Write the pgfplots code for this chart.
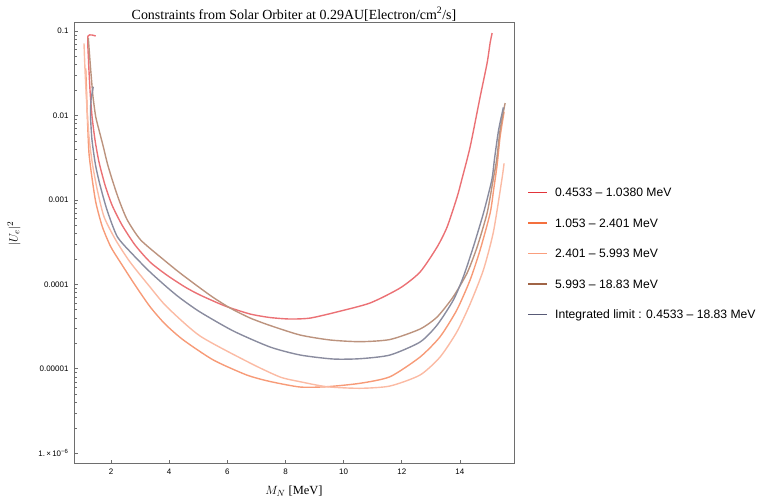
\documentclass[border=0pt]{standalone}
\usepackage{fontspec}
\setmainfont{Liberation Serif}
\setsansfont{Liberation Sans}
\usepackage{pgfplots}
\pgfplotsset{compat=1.18}

% key colours; the curves use lighter tints of them
\definecolor{cRed}{RGB}{226,52,58}
\definecolor{cOrange}{RGB}{244,112,62}
\definecolor{cPeach}{RGB}{250,158,125}
\definecolor{cBrown}{RGB}{160,100,70}
\definecolor{cGrey}{RGB}{88,90,118}
\definecolor{lRed}{RGB}{235,113,117}
\definecolor{lOrange}{RGB}{247,155,120}
\definecolor{lPeach}{RGB}{251,187,164}
\definecolor{lBrown}{RGB}{188,147,126}
\definecolor{lGrey}{RGB}{138,140,159}
\definecolor{frame}{RGB}{110,110,110}
% legend swatch: a short coloured stroke before the entry text
\newcommand{\swatch}[1]{\textcolor{#1}{\rule[3.7bp]{19bp}{1.6bp}}\hspace{8bp}}

\begin{document}
\begin{tikzpicture}
\path[use as bounding box] (-74bp,-35bp) rectangle (705bp,463bp);
\begin{axis}[
  at={(0,0)}, anchor=south west,
  scale only axis, width=440bp, height=441bp,
  xmin=0.727, xmax=15.86,
  ymode=log, ymin=7.67e-7, ymax=0.128,
  xtick={2,4,...,14},
  ytick={1e-6,1e-5,1e-4,1e-3,1e-2,1e-1},
  yticklabels={1.\,×\,10\textsuperscript{−6},0.00001,0.0001,0.001,0.01,0.1},
  minor tick num=0, minor ytick={},
  xtick pos=bottom, ytick pos=left,
  tick align=inside,
  major tick length=3.5bp,
  axis line style={frame, line width=0.9bp},
  tick style={frame, line width=0.7bp},
  /pgf/number format/assume math mode=true,
  ticklabel style={font=\fontsize{8}{9.6}\selectfont\sffamily},
  xticklabel style={yshift=-2bp},
  yticklabel style={xshift=-2bp},
  title={Constraints from Solar Orbiter at 0.29AU[Electron/cm\textsuperscript{2}/s]},
  title style={at={(axis description cs:0.5,0.9932)}, anchor=base, yshift=0pt, font=\fontsize{14}{16}\selectfont},
  xlabel={$M_N$ [MeV]},
  xlabel style={at={(axis description cs:0.5,-0.0635)}, anchor=center, font=\fontsize{12.5}{15}\selectfont},
  ylabel={$|U_e|^2$},
  ylabel style={at={(axis description cs:-0.1364,0.52)}, anchor=center, font=\fontsize{12.5}{15}\selectfont},
  legend cell align=left,
  legend style={draw=none, fill=none, at={(axis description cs:1.025,0.630)}, anchor=north west,
    font=\fontsize{12.2}{15}\selectfont\sffamily, row sep=18.5bp,
    nodes={inner sep=0pt, text height=9.5bp, text depth=2.5bp}},
  every axis plot/.append style={line width=1.4bp, smooth, tension=0.4},
]
% 0.4533 - 1.0380 MeV
\addplot[lRed, forget plot] coordinates {
(1.474,0.0873) (1.209,0.0873) (1.226,0.0454) (1.278,0.0200) (1.346,0.00985)
(1.450,0.00512) (1.587,0.00281) (1.794,0.001502) (2.034,8.71e-4) (2.378,5.05e-4)
(2.826,2.926e-4) (3.342,1.840e-4) (3.916,1.291e-4) (4.546,9.31e-5) (5.062,7.48e-5)
(5.922,5.55e-5) (6.782,4.46e-5) (7.470,4.05e-5) (8.158,3.89e-5) (8.846,3.99e-5)
(9.764,4.71e-5) (10.910,6.02e-5) (11.942,9.06e-5) (12.630,1.401e-4) (13.215,2.77e-4)
(13.559,4.78e-4) (13.903,1.083e-3) (14.060,1.72e-3) (14.350,4.23e-3) (14.694,0.01654)
(14.935,0.0418) (15.038,0.0721) (15.107,0.0947)};
% 1.053 - 2.401 MeV
\addplot[lOrange, forget plot] coordinates {
(1.130,0.0362) (1.157,0.0200) (1.185,0.00993) (1.243,0.003564) (1.357,0.00172)
(1.484,9.12e-4) (1.701,4.82e-4) (1.990,2.793e-4) (2.344,1.776e-4) (2.826,9.83e-5)
(3.342,5.44e-5) (3.858,3.395e-5) (4.487,2.196e-5) (5.519,1.272e-5) (6.668,8.45e-6)
(7.470,7.08e-6) (8.502,6.09e-6) (9.420,6.14e-6) (10.566,6.74e-6) (11.598,8.07e-6)
(12.630,1.381e-5) (13.318,2.40e-5) (13.893,4.97e-5) (14.350,1.127e-4) (14.694,2.553e-4)
(15.038,6.94e-4) (15.158,1.310e-3) (15.279,2.591e-3) (15.382,5.60e-3) (15.519,0.01108)};
% 2.401 - 5.993 MeV
\addplot[lPeach, forget plot] coordinates {
(1.071,0.0715) (1.106,0.0345) (1.164,0.01393) (1.243,0.00560) (1.357,0.002714)
(1.529,0.001310) (1.759,6.33e-4) (2.162,3.353e-4) (2.654,1.840e-4) (3.342,9.31e-5)
(3.916,5.44e-5) (5.062,2.448e-5) (6.782,1.172e-5) (7.814,8.00e-6) (8.502,7.04e-6)
(9.420,6.14e-6) (10.566,5.88e-6) (11.598,6.26e-6) (12.630,8.45e-6) (13.318,1.381e-5)
(13.893,2.730e-5) (14.350,5.86e-5) (14.807,1.480e-4) (15.151,4.17e-4) (15.440,1.72e-3)
(15.519,2.714e-3)};
% 5.993 - 18.83 MeV
\addplot[lBrown, forget plot] coordinates {
(1.219,0.0826) (1.302,0.0345) (1.381,0.01668) (1.474,0.00967) (1.587,0.00673)
(1.735,0.00427) (1.873,0.002714) (2.045,0.00172) (2.275,9.98e-4) (2.561,5.78e-4)
(3.022,3.353e-4) (3.823,1.944e-4) (4.374,1.364e-4) (5.062,9.06e-5) (5.519,6.99e-5)
(6.094,5.25e-5) (6.782,4.00e-5) (7.470,3.26e-5) (8.502,2.515e-5) (9.534,2.196e-5)
(10.566,2.097e-5) (11.598,2.225e-5) (12.630,2.962e-5) (13.215,4.11e-5) (13.765,7.09e-5)
(14.247,1.364e-4) (14.591,2.77e-4) (14.935,7.00e-4) (15.141,1.72e-3) (15.262,2.968e-3)
(15.382,6.73e-3) (15.554,0.01404)};
% integrated limit
\addplot[lGrey, forget plot] coordinates {
(1.391,0.0219) (1.312,0.01524) (1.295,0.00993) (1.346,0.00512) (1.467,0.002591)
(1.622,0.001502) (1.863,7.60e-4) (2.217,3.668e-4) (2.767,2.227e-4) (3.342,1.401e-4)
(3.916,9.31e-5) (4.374,6.90e-5) (5.062,4.71e-5) (6.207,2.805e-5) (7.470,1.813e-5)
(8.502,1.458e-5) (9.637,1.307e-5) (10.566,1.318e-5) (11.598,1.458e-5) (12.630,2.078e-5)
(13.215,3.30e-5) (13.775,6.53e-5) (14.119,1.233e-4) (14.463,2.793e-4) (14.807,6.94e-4)
(15.096,1.72e-3) (15.193,3.135e-3) (15.330,6.73e-3) (15.495,0.01249)};

\addlegendimage{empty legend}
\addlegendentry{\swatch{cRed}0.4533 – 1.0380 MeV}
\addlegendimage{empty legend}
\addlegendentry{\swatch{cOrange}1.053 – 2.401 MeV}
\addlegendimage{empty legend}
\addlegendentry{\swatch{cPeach}2.401 – 5.993 MeV}
\addlegendimage{empty legend}
\addlegendentry{\swatch{cBrown}5.993 – 18.83 MeV}
\addlegendimage{empty legend}
\addlegendentry{\swatch{cGrey}Integrated limit : 0.4533 – 18.83 MeV}
\end{axis}
\end{tikzpicture}
\end{document}
